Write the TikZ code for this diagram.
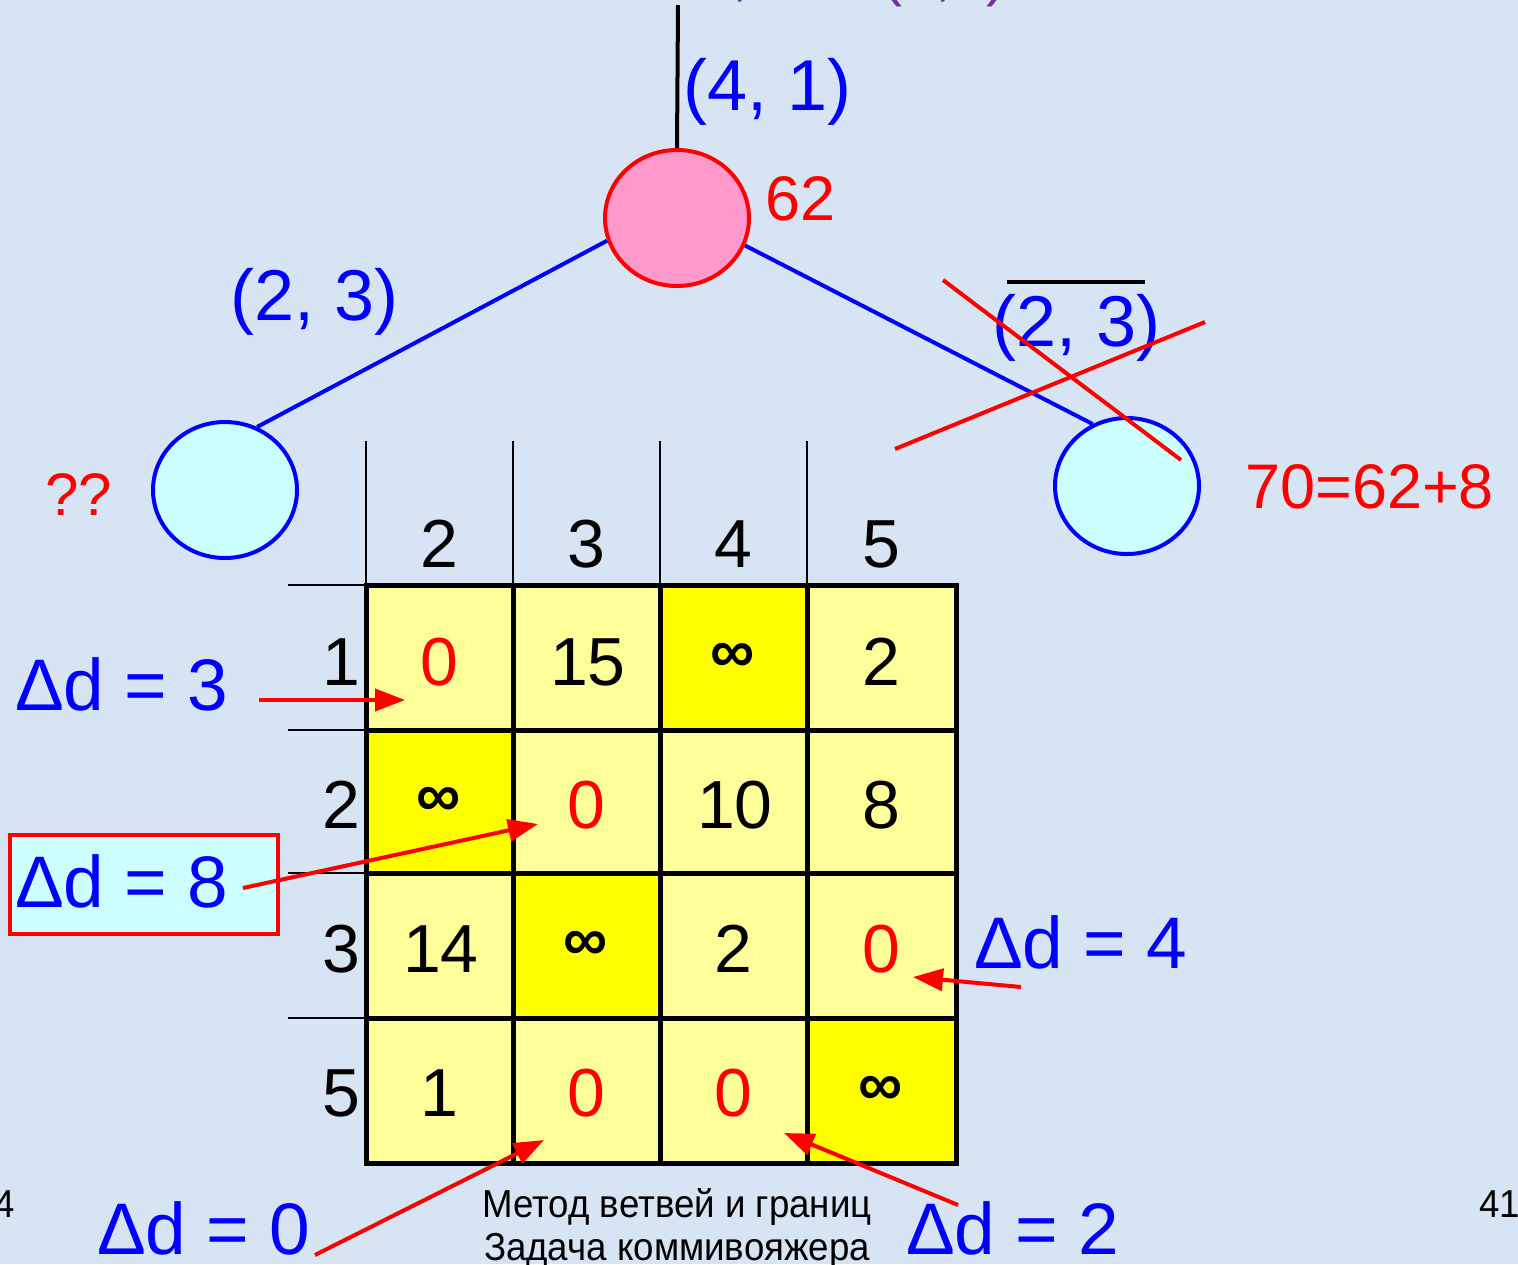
\documentclass[tikz,border=0pt]{standalone}
\usepackage{fontspec}
\setmainfont{Liberation Sans}
\newfontfamily\footfont[FakeStretch=0.94]{Liberation Sans}
\usetikzlibrary{arrows.meta,shapes.geometric}
\definecolor{bg}{RGB}{215,228,243}
\definecolor{pinkfill}{RGB}{255,153,204}
\definecolor{cyanfill}{RGB}{204,255,255}
\definecolor{lightyel}{RGB}{255,255,153}
\definecolor{yel}{RGB}{255,255,0}
\definecolor{purp}{RGB}{112,48,160}
\definecolor{myblue}{RGB}{0,0,255}
\definecolor{myred}{RGB}{255,0,0}
\newcommand\fsz[1]{\fontsize{#1}{#1}\selectfont}
\tikzset{
  lbl/.style={inner sep=0pt, anchor=base west},
  bluelbl/.style={lbl, text=myblue, font=\fsz{72}},
  dlbl/.style={lbl, text=myblue, font=\fsz{73}},
  redlbl/.style={lbl, text=myred, font=\fsz{63}},
  treenode/.style={ellipse, minimum width=144pt, minimum height=136pt, inner sep=0pt, line width=4pt},
  branch/.style={myblue, line width=4pt},
  redarrow/.style={myred, line width=4pt, -{Triangle[length=30pt,width=22pt]}},
  crossline/.style={myred, line width=4pt},
  val/.style={inner sep=0pt, anchor=base, font=\fsz{68}},
  inf/.style={inner sep=0pt, anchor=center, font=\bfseries\fsz{62}},
  hdr/.style={inner sep=0pt, anchor=base, font=\fsz{68}},
  rowlbl/.style={inner sep=0pt, anchor=base east, font=\fsz{68}},
  thinline/.style={black, line width=2pt},
  footer/.style={inner sep=0pt, font=\footfont\fsz{39}},
}
\begin{document}
\begin{tikzpicture}[x=1pt,y=-1pt]
\useasboundingbox (0,0) rectangle (1518,1264);
\fill[bg] (0,0) rectangle (1518,1264);
\begin{scope}
\clip (0,0) rectangle (1518,1264);
\node[lbl, text=purp, font=\fsz{60}] (toptext) at (699,-6) {2, 125 (4,1)};
\end{scope}

% tree
\node[treenode, fill=pinkfill, draw=myred] (root) at (677,218) {};
\node[treenode, fill=cyanfill, draw=myblue] (left) at (225,490) {};
\node[treenode, fill=cyanfill, draw=myblue] (right) at (1127,486) {};
\coordinate (topend) at (678,5);
\draw[black, line width=4pt] (topend) -- (root.north);
\draw[branch] (root.198) -- (left.63);
\draw[branch] (root.338) -- (right.119);

\node[bluelbl] (e41) at (683,110) {(4, 1)};
\node[redlbl] (v62) at (765,220) {62};
\node[bluelbl] (e23) at (230,320) {(2, 3)};
\node[bluelbl] (ne23) at (992,346) {(2, 3)};
\coordinate (ovA) at (1007,282);
\coordinate (ovB) at (1145,282);
\draw[black, line width=4pt] (ovA) -- (ovB);
\coordinate (xa1) at (943,280);
\coordinate (xa2) at (1181,460);
\coordinate (xb1) at (895,449);
\coordinate (xb2) at (1205,322);
\draw[crossline] (xa1) -- (xa2);
\draw[crossline] (xb1) -- (xb2);
\node[redlbl] (v70) at (1245,508) {70=62+8};
\node[redlbl, font=\fsz{60}] (qq) at (45,515) {??};

% matrix cells
\fill[lightyel] (366,585) rectangle (956,1163);
\fill[yel] (660,585) rectangle (807,730);
\fill[yel] (366,730) rectangle (513,873);
\fill[yel] (513,873) rectangle (660,1018);
\fill[yel] (807,1018) rectangle (956,1163);

% header lines
\foreach \x in {366,513,660,807}
  \draw[thinline] (\x,441) -- (\x,585);
\foreach \y in {585,730,873,1018}
  \draw[thinline] (288,\y) -- (366,\y);

% grid
\draw[black, line width=5pt] (366,585) rectangle (956,1163);
\foreach \x in {513,660,807}
  \draw[black, line width=5pt] (\x,585) -- (\x,1163);
\foreach \y in {730,873,1018}
  \draw[black, line width=5pt] (366,\y) -- (956,\y);

% column headers
\node[hdr] (h2) at (439,567) {2};
\node[hdr] (h3) at (586,567) {3};
\node[hdr] (h4) at (733,567) {4};
\node[hdr] (h5) at (881,567) {5};
% row headers
\node[rowlbl] (r1) at (361,685) {1};
\node[rowlbl] (r2) at (361,828) {2};
\node[rowlbl] (r3) at (361,972) {3};
\node[rowlbl] (r5) at (361,1116) {5};

% row 1
\node[val, text=myred] (c12) at (439,685) {0};
\node[val] (c13) at (588,685) {15};
\node[inf] (c14) at (733,658) {∞};
\node[val] (c15) at (881,685) {2};
% row 2
\node[inf] (c22) at (439,802) {∞};
\node[val, text=myred] (c23) at (586,828) {0};
\node[val] (c24) at (735,828) {10};
\node[val] (c25) at (881,828) {8};
% row 3
\node[val] (c32) at (441,972) {14};
\node[inf] (c33) at (586,946) {∞};
\node[val] (c34) at (733,972) {2};
\node[val, text=myred] (c35) at (881,972) {0};
% row 5
\node[val] (c52) at (439,1116) {1};
\node[val, text=myred] (c53) at (586,1116) {0};
\node[val, text=myred] (c54) at (733,1116) {0};
\node[inf] (c55) at (881,1091) {∞};

% delta labels
\node[draw=myred, fill=cyanfill, line width=4pt, minimum width=268pt, minimum height=99pt, inner sep=0pt] (d8box) at (144,884.5) {};
\node[dlbl] (d3) at (15,710) {Δd = 3};
\node[dlbl] (d8) at (15,907) {Δd = 8};
\node[dlbl] (d4) at (974,968) {Δd = 4};
\node[dlbl] (d0) at (97,1254) {Δd = 0};
\node[dlbl] (d2) at (906,1254) {Δd = 2};

\coordinate (a3s) at (259,700); \coordinate (a3e) at (405,700);
\coordinate (a8s) at (243,888); \coordinate (a8e) at (538,824);
\coordinate (a4s) at (1021,987); \coordinate (a4e) at (913,977);
\coordinate (a0s) at (315,1255); \coordinate (a0e) at (544,1140);
\coordinate (a2s) at (958,1205); \coordinate (a2e) at (784,1133);
\draw[redarrow] (a3s) -- (a3e);
\draw[redarrow] (a8s) -- (a8e);
\draw[redarrow] (a4s) -- (a4e);
\draw[redarrow] (a0s) -- (a0e);
\draw[redarrow] (a2s) -- (a2e);

% footer
\node[footer, anchor=base] (f1) at (677,1217) {Метод ветвей и границ};
\node[footer, anchor=base] (f2) at (677,1260) {Задача коммивояжера};
\node[footer, anchor=base east] (pl) at (15,1217) {4};
\node[footer, anchor=base east] (pr) at (1520,1217) {41};
\end{tikzpicture}
\end{document}
